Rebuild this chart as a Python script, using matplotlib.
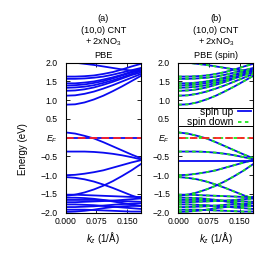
import matplotlib
matplotlib.use("Agg")
import matplotlib.pyplot as plt
from matplotlib.patches import Rectangle

plt.rcParams['font.family'] = ['Liberation Sans', 'DejaVu Sans']
plt.rcParams['font.size'] = 6.2
plt.rcParams['lines.scale_dashes'] = False
plt.rcParams['mathtext.fontset'] = 'custom'
plt.rcParams['mathtext.rm'] = 'Liberation Sans'
plt.rcParams['mathtext.it'] = 'Liberation Sans:italic'

# k-points (1/Å)
k = [0.0, 0.023, 0.046, 0.069, 0.092, 0.115, 0.138, 0.161, 0.184]

# bands common to both spins / non-spin-polarised (eV, relative to E_F)
bands = [
    [2.02, 2.00, 1.97, 1.94, 1.90, 1.86, 1.82, 1.79, 1.77],
    [1.63, 1.63, 1.64, 1.66, 1.70, 1.75, 1.82, 1.90, 1.97],
    [1.57, 1.57, 1.58, 1.60, 1.63, 1.68, 1.74, 1.80, 1.86],
    [1.45, 1.45, 1.47, 1.50, 1.55, 1.61, 1.68, 1.76, 1.84],
    [1.39, 1.40, 1.42, 1.46, 1.51, 1.58, 1.66, 1.74, 1.80],
    [1.33, 1.34, 1.36, 1.40, 1.46, 1.53, 1.61, 1.70, 1.78],
    [1.25, 1.26, 1.29, 1.34, 1.41, 1.49, 1.58, 1.67, 1.74],
    [1.12, 1.13, 1.17, 1.23, 1.31, 1.40, 1.50, 1.60, 1.70],
    [0.88, 0.89, 0.94, 1.02, 1.12, 1.24, 1.37, 1.51, 1.65],
    [0.14, 0.11, 0.05, -0.02, -0.12, -0.23, -0.34, -0.45, -0.55],
    [-0.37, -0.37, -0.37, -0.38, -0.40, -0.43, -0.47, -0.52, -0.58],
    [-1.00, -0.99, -0.96, -0.92, -0.87, -0.80, -0.73, -0.66, -0.60],
    [-1.05, -1.07, -1.11, -1.17, -1.25, -1.34, -1.44, -1.54, -1.62],
    [-1.55, -1.52, -1.46, -1.38, -1.28, -1.16, -1.02, -0.87, -0.70],
    [-1.52, -1.52, -1.53, -1.54, -1.55, -1.56, -1.57, -1.58, -1.58],
    [-1.60, -1.60, -1.61, -1.63, -1.66, -1.70, -1.74, -1.78, -1.82],
    [-1.66, -1.66, -1.66, -1.66, -1.67, -1.68, -1.69, -1.70, -1.71],
    [-1.72, -1.72, -1.71, -1.70, -1.69, -1.68, -1.66, -1.64, -1.62],
    [-1.78, -1.78, -1.79, -1.80, -1.82, -1.84, -1.86, -1.88, -1.90],
    [-1.85, -1.85, -1.84, -1.83, -1.81, -1.79, -1.77, -1.76, -1.75],
    [-1.92, -1.92, -1.92, -1.93, -1.94, -1.95, -1.96, -1.97, -1.97],
    [-1.98, -1.97, -1.95, -1.92, -1.88, -1.85, -1.83, -1.82, -1.82],
]
# NO3 flat band
flat_pbe = [0.0, 0.0, 0.0, 0.0, 0.0, 0.0, 0.0, 0.0, 0.0]
flat_up = [-0.62, -0.62, -0.62, -0.62, -0.62, -0.62, -0.62, -0.62, -0.62]
flat_down = [0.0, 0.0, 0.0, 0.0, 0.0, 0.0, 0.0, 0.0, 0.0]

yticks = [2.0, 1.5, 1.0, 0.5, 0.0, -0.5, -1.0, -1.5, -2.0]
yticklabels = ['2.0', '1.5', '1.0', '0.5', '$E_F$', '\u22120.5', '\u22121.0', '\u22121.5', '\u22122.0']
xticks = [0.0, 0.075, 0.150]
xticklabels = ['0.000', '0.075', '0.150']

BLUE = '#0a0af0'
GREEN = '#1ee81e'
RED = '#ff2020'
LW = 1.3
TFS = 7.0
HFS = 6.6
LFS = 7.4

fig = plt.figure(figsize=(2.63, 2.63), dpi=100)
ax1 = fig.add_axes([0.2498, 0.1913, 0.2863, 0.5703])
ax2 = fig.add_axes([0.678, 0.1913, 0.2855, 0.5703])

for ax in (ax1, ax2):
    ax.set_xlim(0, 0.184)
    ax.set_ylim(-2.0, 2.0)
    ax.set_yticks(yticks)
    ax.set_yticklabels(yticklabels)
    ax.set_xticks(xticks)
    ax.set_xticklabels(xticklabels)
    ax.tick_params(direction='in', length=3, width=0.6, top=True, right=True)
    ax.tick_params(axis='y', pad=6)
    ax.tick_params(axis='x', pad=3)
    for s in ax.spines.values():
        s.set_linewidth(0.8)
    ax.set_xlabel('$k_z$ (1/Å)', labelpad=3, fontsize=TFS)

# panel (a)
for b in bands:
    ax1.plot(k, b, color=BLUE, lw=LW)
ax1.plot(k, flat_pbe, color=BLUE, lw=LW)
ax1.axhline(0.0, color=RED, lw=LW, dashes=(5.5, 3.0))

# panel (b)
for b in bands:
    ax2.plot(k, b, color=BLUE, lw=LW)
    ax2.plot(k, b, color=GREEN, lw=LW, dashes=(2.5, 2.5))
ax2.plot(k, flat_up, color=BLUE, lw=LW)
ax2.plot(k, flat_down, color=GREEN, lw=LW, dashes=(2.5, 2.5))
ax2.axhline(0.0, color=RED, lw=LW, dashes=(5.5, 3.0))

ax2.add_patch(Rectangle((0.0, 0.576), 1.0, 0.122, transform=ax2.transAxes,
                        facecolor='white', edgecolor='black', lw=0.7, zorder=5))
h_up, = ax2.plot([], [], color=BLUE, lw=LW, label='spin up')
h_dn, = ax2.plot([], [], color=GREEN, lw=LW, dashes=(2.5, 2.5), label='spin down')
leg = ax2.legend(handles=[h_up, h_dn], loc='center right', bbox_to_anchor=(1.0, 0.637),
                 borderaxespad=0.15, markerfirst=False, frameon=False,
                 handlelength=1.2, handletextpad=0.5,
                 borderpad=0.1, labelspacing=0.05, fontsize=LFS)
leg.set_zorder(6)

fig.text(22.5 / 263, 1 - 149 / 263, 'Energy (eV)', rotation=90, ha='center', va='center',
         fontsize=TFS)

for ax, tag, sub in ((ax1, '(a)', 'PBE'), (ax2, '(b)', 'PBE (spin)')):
    ax.text(0.5, 1.278, tag, transform=ax.transAxes, ha='center', va='baseline', fontsize=HFS)
    ax.text(0.5, 1.196, '(10,0) CNT', transform=ax.transAxes, ha='center', va='baseline', fontsize=HFS)
    ax.text(0.5, 1.120, '+ 2xNO$_3$', transform=ax.transAxes, ha='center', va='baseline', fontsize=HFS)
    ax.text(0.5, 1.034, sub, transform=ax.transAxes, ha='center', va='baseline', fontsize=HFS)

fig.savefig('out.png', dpi=100)
